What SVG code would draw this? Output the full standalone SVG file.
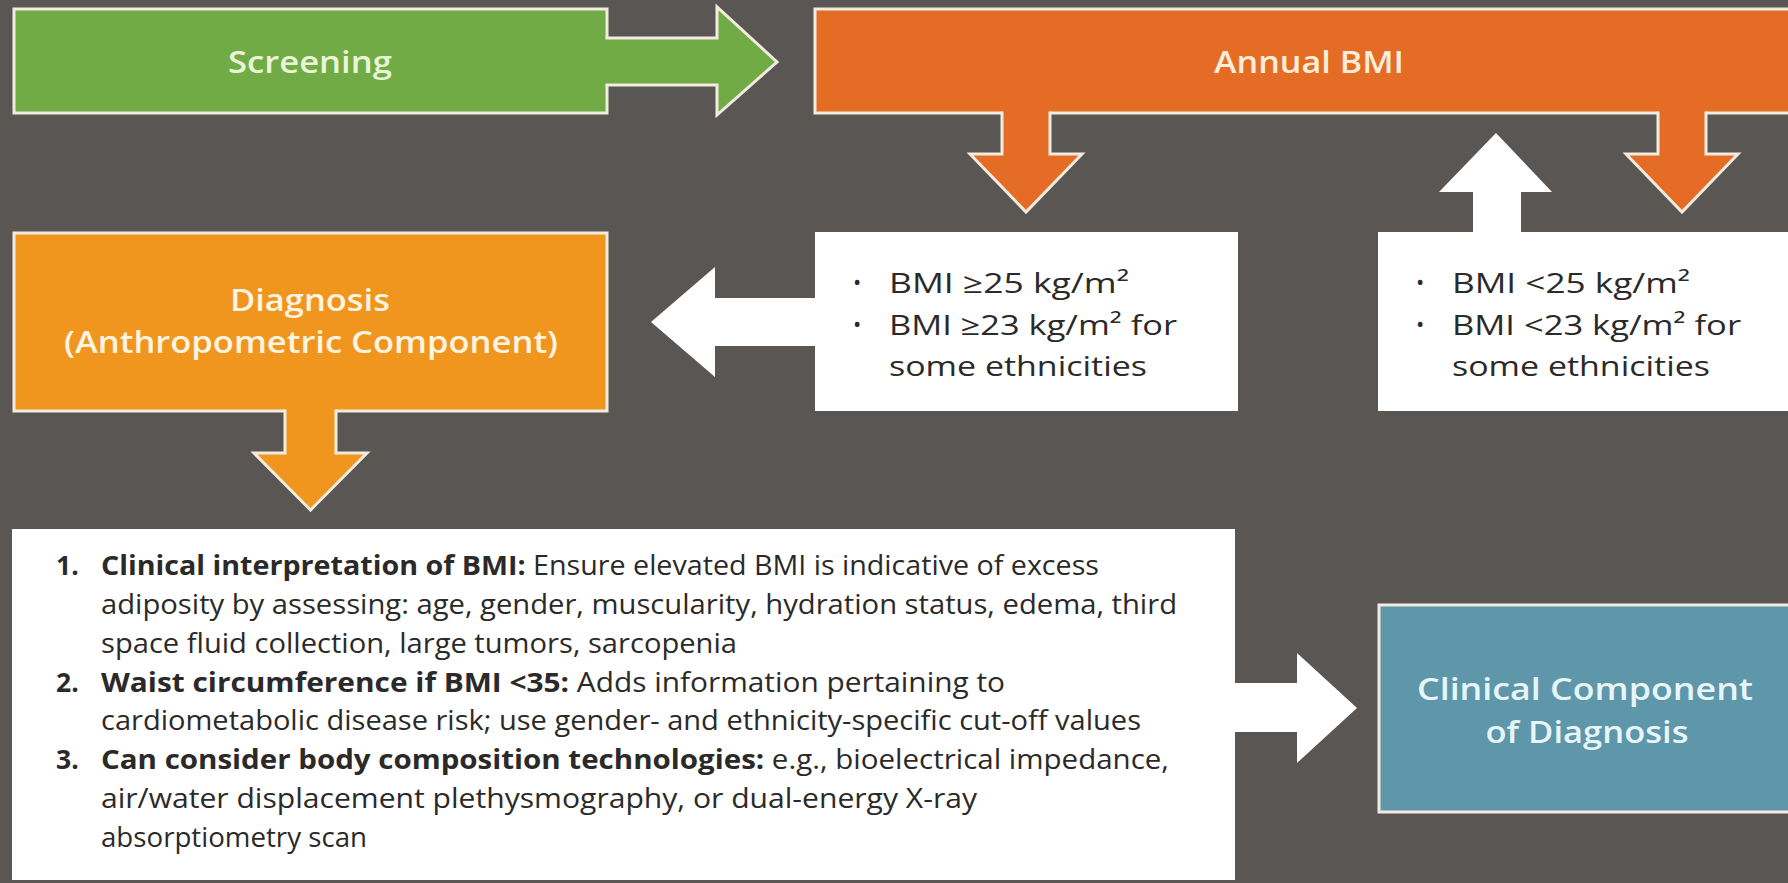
<svg xmlns="http://www.w3.org/2000/svg" width="1788" height="883" viewBox="0 0 1788 883">
<style>
.bg{fill:#5a5653}
.stk{stroke:#f1ecdf;stroke-width:3;stroke-linejoin:miter}
.nofill{fill:none}
.green{fill:#70ab45}
.orange{fill:#e46c24}
.amber{fill:#f0961f}
.teal{fill:#5e97aa}
.white{fill:#ffffff}
.title{font-family:"Open Sans","Liberation Sans",sans-serif;font-weight:600;font-size:31px;text-anchor:middle}
.body{font-family:"Open Sans","Liberation Sans",sans-serif;font-size:28px;fill:#2b2a29}
.list{font-family:"Open Sans","Liberation Sans",sans-serif;font-size:26.5px;fill:#2b2a29}
.b{font-weight:700}
.bul{font-family:"Open Sans","Liberation Sans",sans-serif;font-size:22px;fill:#2b2a29}
</style>
<rect class="bg" x="0" y="0" width="1788" height="883"/>

<g id="node-screening">
  <rect class="green stk" x="14" y="9" width="593" height="104"/>
  <text class="title" x="310" y="73" fill="#eaf5d8" textLength="164" lengthAdjust="spacingAndGlyphs">Screening</text>
</g>

<g id="node-annual-bmi">
  <rect class="orange stk" x="815" y="9" width="985" height="104"/>
  <text class="title" x="1309" y="73" fill="#fdeedc" textLength="190" lengthAdjust="spacingAndGlyphs">Annual BMI</text>
</g>

<g id="node-diagnosis">
  <rect class="amber stk" x="14" y="233" width="593" height="178"/>
  <text class="title" x="310" y="311" fill="#fff4e2" textLength="160" lengthAdjust="spacingAndGlyphs">Diagnosis</text>
  <text class="title" x="311" y="353" fill="#fff4e2" textLength="494" lengthAdjust="spacingAndGlyphs">(Anthropometric Component)</text>
</g>

<g id="node-bmi-high">
  <rect class="white" x="815" y="232" width="423" height="179"/>
  <text class="bul" x="853" y="290">•</text>
  <text class="bul" x="853" y="332">•</text>
  <text class="body" x="889" y="293" textLength="240" lengthAdjust="spacingAndGlyphs">BMI ≥25 kg/m²</text>
  <text class="body" x="889" y="335" textLength="288" lengthAdjust="spacingAndGlyphs">BMI ≥23 kg/m² for</text>
  <text class="body" x="889" y="376" textLength="258" lengthAdjust="spacingAndGlyphs">some ethnicities</text>
</g>

<g id="node-bmi-low">
  <rect class="white" x="1378" y="232" width="420" height="179"/>
  <text class="bul" x="1416" y="290">•</text>
  <text class="bul" x="1416" y="332">•</text>
  <text class="body" x="1452" y="293" textLength="238" lengthAdjust="spacingAndGlyphs">BMI &lt;25 kg/m²</text>
  <text class="body" x="1452" y="335" textLength="289" lengthAdjust="spacingAndGlyphs">BMI &lt;23 kg/m² for</text>
  <text class="body" x="1452" y="376" textLength="258" lengthAdjust="spacingAndGlyphs">some ethnicities</text>
</g>

<g id="node-anthropometric-steps">
  <rect class="white" x="12" y="529" width="1223" height="351"/>
  <text class="list b" x="56" y="575">1.</text>
  <text class="list b" x="56" y="692">2.</text>
  <text class="list b" x="56" y="769">3.</text>
  <text class="list" x="101" y="575" textLength="998" lengthAdjust="spacingAndGlyphs"><tspan class="b">Clinical interpretation of BMI:</tspan> Ensure elevated BMI is indicative of excess</text>
  <text class="list" x="101" y="614" textLength="1076" lengthAdjust="spacingAndGlyphs">adiposity by assessing: age, gender, muscularity, hydration status, edema, third</text>
  <text class="list" x="101" y="653" textLength="636" lengthAdjust="spacingAndGlyphs">space fluid collection, large tumors, sarcopenia</text>
  <text class="list" x="101" y="692" textLength="904" lengthAdjust="spacingAndGlyphs"><tspan class="b">Waist circumference if BMI &lt;35:</tspan> Adds information pertaining to</text>
  <text class="list" x="101" y="730" textLength="1040" lengthAdjust="spacingAndGlyphs">cardiometabolic disease risk; use gender- and ethnicity-specific cut-off values</text>
  <text class="list" x="101" y="769" textLength="1068" lengthAdjust="spacingAndGlyphs"><tspan class="b">Can consider body composition technologies:</tspan> e.g., bioelectrical impedance,</text>
  <text class="list" x="101" y="808" textLength="876" lengthAdjust="spacingAndGlyphs">air/water displacement plethysmography, or dual-energy X-ray</text>
  <text class="list" x="101" y="847" textLength="266" lengthAdjust="spacingAndGlyphs">absorptiometry scan</text>
</g>

<g id="node-clinical-component">
  <rect class="teal stk" x="1379" y="605" width="420" height="207"/>
  <text class="title" x="1585" y="700" fill="#e8f5f8" textLength="336" lengthAdjust="spacingAndGlyphs">Clinical Component</text>
  <text class="title" x="1587" y="743" fill="#e8f5f8" textLength="203" lengthAdjust="spacingAndGlyphs">of Diagnosis</text>
</g>

<g id="connectors">
  <!-- Screening -> Annual BMI -->
  <polygon class="green" points="603,38 717,38 717,7 777,62 717,115 717,85 603,85"/>
  <polyline class="stk nofill" points="605.5,38 717,38 717,7 777,62 717,115 717,85 605.5,85"/>
  <!-- Annual BMI -> BMI high -->
  <polygon class="orange" points="1002,109 1050,109 1050,154 1082,154 1026,212 970,154 1002,154"/>
  <polyline class="stk nofill" points="1002,111.5 1002,154 970,154 1026,212 1082,154 1050,154 1050,111.5"/>
  <!-- Annual BMI -> BMI low -->
  <polygon class="orange" points="1658,109 1706,109 1706,154 1738,154 1682,212 1626,154 1658,154"/>
  <polyline class="stk nofill" points="1658,111.5 1658,154 1626,154 1682,212 1738,154 1706,154 1706,111.5"/>
  <!-- BMI low -> Annual BMI (return) -->
  <polygon class="white" points="1473,233 1473,192 1439,192 1496,133 1552,192 1521,192 1521,233"/>
  <!-- BMI high -> Diagnosis -->
  <polygon class="white" points="816,298 715,298 715,267 651,322 715,377 715,346 816,346"/>
  <!-- Diagnosis -> steps -->
  <polygon class="amber" points="285,407 336,407 336,453 367,453 310.5,510 254,453 285,453"/>
  <polyline class="stk nofill" points="285,409.5 285,453 254,453 310.5,510 367,453 336,453 336,409.5"/>
  <!-- steps -> Clinical component -->
  <polygon class="white" points="1234,683 1297,683 1297,653 1357,708 1297,763 1297,732 1234,732"/>
</g>
</svg>
